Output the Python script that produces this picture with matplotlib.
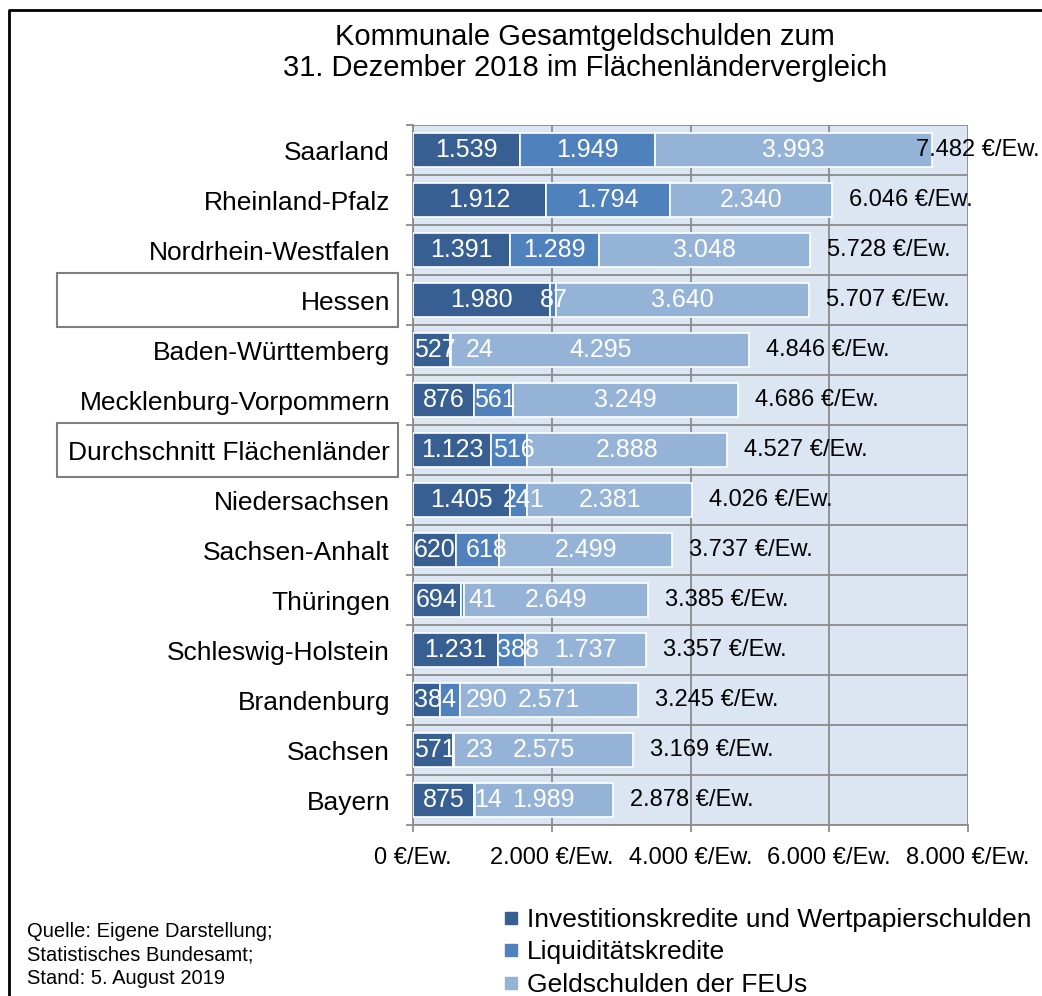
import matplotlib
matplotlib.use('agg')
import matplotlib.pyplot as plt
import matplotlib.transforms as mtransforms
from matplotlib.patches import Rectangle
from matplotlib.lines import Line2D
import numpy as np

plt.rcParams['font.family'] = ['Liberation Sans', 'DejaVu Sans']

###DATA###
laender = ['Saarland', 'Rheinland-Pfalz', 'Nordrhein-Westfalen', 'Hessen',
           'Baden-Württemberg', 'Mecklenburg-Vorpommern', 'Durchschnitt Flächenländer',
           'Niedersachsen', 'Sachsen-Anhalt', 'Thüringen', 'Schleswig-Holstein',
           'Brandenburg', 'Sachsen', 'Bayern']
invest = [1539, 1912, 1391, 1980, 527, 876, 1123, 1405, 620, 694, 1231, 384, 571, 875]
liquid = [1949, 1794, 1289, 87, 24, 561, 516, 241, 618, 41, 388, 290, 23, 14]
feu = [3993, 2340, 3048, 3640, 4295, 3249, 2888, 2381, 2499, 2649, 1737, 2571, 2575, 1989]
totals = [7482, 6046, 5728, 5707, 4846, 4686, 4527, 4026, 3737, 3385, 3357, 3245, 3169, 2878]
boxed = ['Hessen', 'Durchschnitt Flächenländer']
xticks = [0, 2000, 4000, 6000, 8000]
legend_labels = ['Investitionskredite und Wertpapierschulden', 'Liquiditätskredite',
                 'Geldschulden der FEUs']
quelle = ['Quelle: Eigene Darstellung;', 'Statistisches Bundesamt;', 'Stand: 5. August 2019']

colors = ['#375f91', '#4f81bd', '#95b3d7']
bgcolor = '#dce6f2'
gridcolor = '#8c8c8c'


def de(v):
    return '{:,}'.format(v).replace(',', '.')


W, H = 1042, 996
fig = plt.figure(figsize=(W / 100, H / 100), dpi=100)
ax = fig.add_axes([413 / W, 1 - 825 / H, 555 / W, 700 / H])
ax.set_facecolor(bgcolor)

ypos = np.arange(len(laender))
series = [invest, liquid, feu]
left = np.zeros(len(laender))
for vals, c in zip(series, colors):
    ax.barh(ypos, vals, left=left, height=0.68, color=c, edgecolor='white', linewidth=1.2, zorder=3)
    left = left + np.array(vals)

ax.set_xlim(0, 8000)
ax.set_ylim(len(laender) - 0.5, -0.5)

###AXES / GRID###
ax.set_xticks(xticks)
ax.set_xticklabels([de(t) + ' €/Ew.' for t in xticks], fontsize=17)
ax.set_yticks(ypos)
ax.set_yticklabels(laender, fontsize=19)
ax.set_yticks(np.arange(-0.5, len(laender), 1), minor=True)
ax.tick_params(axis='y', which='major', length=0, pad=16.5)
ax.tick_params(axis='y', which='minor', length=5, color=gridcolor, width=1.3, direction='out')
ax.tick_params(axis='x', which='major', length=5, color=gridcolor, width=1.3, pad=11)
ax.grid(axis='x', color=gridcolor, lw=1.3, zorder=1)
ax.grid(axis='y', which='minor', color=gridcolor, lw=1.3, zorder=1)
ax.set_axisbelow(True)
for sp in ['top', 'right']:
    ax.spines[sp].set_visible(False)
for sp in ['left', 'bottom']:
    ax.spines[sp].set_color(gridcolor)
    ax.spines[sp].set_linewidth(1.3)

###VALUE LABELS (shift to the right when they would overlap)###
fig.canvas.draw()
renderer = fig.canvas.get_renderer()
for i in range(len(laender)):
    start = 0
    prev_right = ax.transData.transform((0, 0))[0] + 1
    for vals in series:
        v = vals[i]
        cx = start + v / 2
        t = ax.text(cx, i, de(v), ha='center', va='center', color='white', fontsize=18, zorder=5)
        bb = t.get_window_extent(renderer)
        if bb.x0 < prev_right:
            shift = prev_right - bb.x0
            px = ax.transData.transform((cx, i))[0] + shift
            t.set_x(ax.transData.inverted().transform((px, 0))[0])
            prev_right = bb.x1 + shift + 10
        else:
            prev_right = bb.x1 + 10
        start += v
    # total label
    end_px = ax.transData.transform((totals[i], i))[0] + 17
    t = ax.text(0, i, de(totals[i]) + ' €/Ew.', ha='left', va='center', fontsize=17, zorder=6)
    wbox = t.get_window_extent(renderer).width
    end_px = min(end_px, W - 2 - wbox)
    t.set_x(ax.transData.inverted().transform((end_px, 0))[0])

###BOXES AROUND SOME LABELS###
trans = mtransforms.blended_transform_factory(fig.transFigure, ax.transData)
for name in boxed:
    i = laender.index(name)
    ax.add_patch(Rectangle((57 / W, i - 0.54), 341 / W, 1.08, transform=trans, fill=False,
                           edgecolor='#7f7f7f', lw=1.5, clip_on=False))

###TITLE###
fig.text(585 / W, 1 - 37 / H, 'Kommunale Gesamtgeldschulden zum', ha='center', va='center', fontsize=21)
fig.text(585 / W, 1 - 68 / H, '31. Dezember 2018 im Flächenländervergleich', ha='center', va='center', fontsize=21)

###SOURCE###
for k, line in enumerate(quelle):
    fig.text(27 / W, 1 - (931 + k * 23.5) / H, line, ha='left', va='center', fontsize=14.5)

###LEGEND###
handles = [Line2D([], [], marker='s', ls='', color=c, markersize=9) for c in colors]
fig.legend(handles, legend_labels, loc='upper left', bbox_to_anchor=(503 / W, 1 - 908 / H),
           frameon=False, fontsize=19, handlelength=0.6, handletextpad=0.3,
           labelspacing=0.32, borderpad=0, borderaxespad=0)

###FRAME###
fig.add_artist(Line2D([9 / W, 9 / W, 1], [0, 1 - 10 / H, 1 - 10 / H], color='black', lw=2,
                      transform=fig.transFigure))

fig.savefig('out.png', dpi=100)
